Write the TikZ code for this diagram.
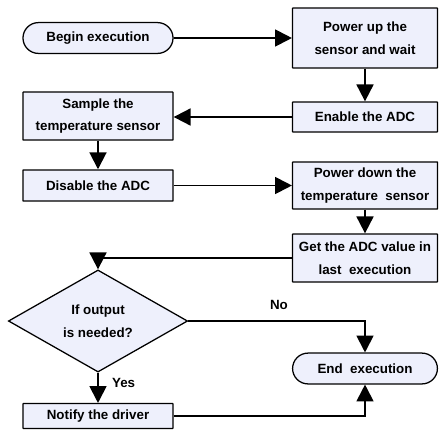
\documentclass[tikz,border=0pt]{standalone}
\usepackage{fontspec}
\setmainfont{Liberation Sans}
\usetikzlibrary{arrows.meta,shapes.geometric,shapes.misc}

\definecolor{boxblue}{RGB}{238,240,252}
\tikzset{
  blocco/.style={draw, line width=0.9pt, fill=boxblue, align=center, inner sep=0pt},
  riquadro/.style={blocco, rounded corners=0.3pt},
  capsula/.style={blocco, rounded rectangle, minimum width=3.75cm, minimum height=0.77cm},
  scelta/.style={blocco, diamond, minimum width=4.48cm, minimum height=1.95cm},
  freccia/.style={line width=1.4pt, -{Triangle[length=12pt,width=12pt]}}
}

\begin{document}
\begin{tikzpicture}[x=0.025cm, y=0.025cm, font=\fontsize{9.5}{16}\selectfont\bfseries]
              \useasboundingbox (0,0) rectangle (439,-429);
              % Nodi
              \node[capsula] (0) at (98, -38) {Begin execution};
              \node[riquadro, minimum width=3.62cm, minimum height=1.5cm] (1) at (365, -38) {Power up the\\sensor and wait};
              \node[riquadro, minimum width=3.62cm, minimum height=0.75cm] (2) at (365, -117) {Enable the ADC};
              \node[riquadro, minimum width=3.75cm, minimum height=1.2cm] (3) at (98, -116) {Sample the\\temperature sensor};
              \node[riquadro, minimum width=3.75cm, minimum height=0.78cm] (4) at (98, -185.5) {Disable the ADC};
              \node[riquadro, minimum width=3.62cm, minimum height=1.18cm] (5) at (365, -185.5) {Power down the\\temperature~ sensor};
              \node[riquadro, minimum width=3.62cm, minimum height=1.2cm] (6) at (365, -258) {Get the ADC value in\\last~ execution};
              \node[scelta] (7) at (98, -321) {If output\\is needed?};
              \node[capsula, minimum width=3.62cm] (8) at (365, -368.5) {End~ execution};
              \node[riquadro, minimum width=3.75cm, minimum height=0.62cm] (9) at (98, -416) {Notify the driver};

              % Archi
              \draw[freccia] (0) -- (1);
              \draw[freccia] (1) -- (2);
              \draw[freccia] (2.west) -- (2.west -| 3.east);
              \draw[freccia] (3) -- (4);
              \draw[freccia] (4) -- (5);
              \draw[freccia] (5) -- (6);
              \draw[freccia] (6.west) -| (7.north);
              \draw[freccia] (7.east) -| (8.north);
              \draw[freccia] (7) -- node[pos=0.33, right=6pt] {Yes} (9);
              \draw[freccia] (9.east) -| (8.south);
              \node (no) at (279, -305) {No};
        \end{tikzpicture}
\end{document}
